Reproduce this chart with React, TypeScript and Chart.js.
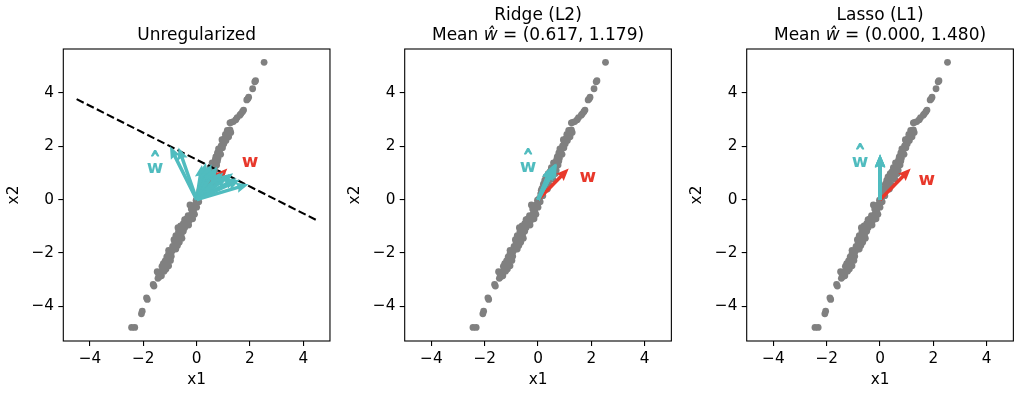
import React, { useEffect, useRef } from "react";
import { Chart, registerables } from "chart.js";
Chart.register(...registerables);

const FONT = '"DejaVu Sans", sans-serif';

// ---------- data ----------
const X_TICKS = [-4, -2, 0, 2, 4];
const Y_TICKS = [-4, -2, 0, 2, 4];
const X_LIMITS = [-5, 5];
const Y_LIMITS = [-5.3, 5.65];

const SCATTER_X1 = [
  2.53, 2.21, 2.18, 2.1, 1.95, 1.92, 1.88, 1.76, 1.72, 1.66, 1.62, 1.52, 1.47, 1.38, 1.3, 1.25,
  1.25, 1.2, 1.28, 1.12, 1.2, 1.05, 1.1, 0.98, 1.02, 0.92, 0.97, 0.88, 0.85, 0.78, 0.9,
  0.75, 0.8, 0.7, 0.68, 0.62, 0.75, 0.6, 0.55, 0.68, 0.45, 0.38, 0.55, 0.65, 0.3, 0.42, 0.55, 0.25,
  0.3, 0.2, 0.42, 0.15, 0.25, 0.35, 0.1, 0.18, 0.05, -0.02, 0.08, -0.05, 0.0, -0.1, -0.25,
  -0.12, -0.18, -0.08, -0.22, -0.15, -0.28, -0.45, -0.35, -0.42, -0.3, -0.45, -0.55, -0.62, -0.5, -0.7,
  -0.62, -0.58, -0.68, -0.7, -0.75, -0.65, -0.55, -0.85, -0.8, -0.85, -0.78, -1.05, -0.95, -1.05, -0.92,
  -1.0, -1.05, -0.98, -1.1, -1.15, -1.05, -1.2, -1.28, -1.22, -1.35, -1.42, -1.38, -1.48,
  -0.2, -0.32, -0.38, -0.5, -0.6, -0.68, -0.78, -0.82, -0.72, -0.9, -0.95, -1.12, -1.18, -1.25, -1.3, -1.45, -1.32, -1.15,
  0.12, 0.28, 0.35, 0.48, 0.5, 0.58, 0.72, 0.82, 0.95, 1.15, 1.08, 0.78,
  -1.63, -1.6, -1.88, -1.85, -2.04, -2.07, -2.44, -2.32,
];
const SCATTER_X2 = [
  5.15, 4.46, 4.42, 4.16, 3.84, 3.78, 3.74, 3.36, 3.3, 3.22, 3.17, 3.08, 3.0, 2.93, 2.9, 2.88,
  2.62, 2.58, 2.52, 2.42, 2.36, 2.3, 2.22, 2.18, 2.1, 2.02, 1.95, 1.9, 1.82, 1.75, 1.7,
  1.62, 1.55, 1.5, 1.42, 1.35, 1.3, 1.22, 1.15, 1.1, 1.05, 0.98, 0.95, 0.98, 0.85, 0.8, 0.78, 0.72,
  0.6, 0.58, 0.55, 0.42, 0.38, 0.4, 0.22, 0.15, 0.05, -0.02, -0.08, -0.18, -0.28, -0.32, -0.2,
  -0.45, -0.52, -0.55, -0.68, -0.72, -0.78, -0.75, -0.88, -0.85, -0.95, -1.05, -1.08, -1.12, -1.18, -1.05,
  -1.25, -1.32, -1.38, -1.48, -1.55, -1.6, -1.45, -1.5, -1.7, -1.8, -1.85, -1.9, -1.95, -2.02, -1.92,
  -2.12, -2.22, -2.28, -2.38, -2.45, -2.48, -2.55, -2.62, -2.68, -2.75, -2.82, -2.88, -2.7,
  -0.35, -0.6, -0.72, -0.9, -0.98, -1.2, -1.35, -1.6, -1.72, -1.75, -2.12, -2.15, -2.3, -2.4, -2.5, -2.95, -2.85, -2.6,
  0.35, 0.5, 0.7, 0.9, 1.2, 1.38, 1.6, 1.9, 2.25, 2.6, 2.45, 1.45,
  -3.18, -3.24, -3.68, -3.74, -4.18, -4.28, -4.79, -4.79,
];

const TRUE_W = [1.15, 1.17];

const UNREG_W1 = [-1.0, -0.68, 0.2, 0.35, 0.45, 0.56, 0.65, 0.77, 0.88, 1.0, 1.15, 1.37, 1.5, 1.62, 1.95];
const UNREG_W2 = [2.0, 1.96, 1.3, 1.38, 1.25, 1.33, 1.15, 1.24, 1.0, 1.02, 0.9, 0.99, 0.8, 0.75, 0.58];

const RIDGE_W1 = [0.5, 0.55, 0.6, 0.63, 0.66, 0.69, 0.71, 0.64, 0.58, 0.68];
const RIDGE_W2 = [1.22, 1.28, 1.3, 1.34, 1.36, 1.36, 1.33, 1.26, 1.2, 1.3];

const LASSO_W1 = [0.0, 0.0, 0.0, 0.0, 0.0];
const LASSO_W2 = [1.7, 1.68, 1.66, 1.7, 1.69];

const BOUNDARY_X1 = [-4.5, 4.5];
const BOUNDARY_X2 = [3.77, -0.77];

const TITLES = ["Unregularized", "Ridge (L2)", "Lasso (L1)"];
const MEAN_TEXT = [null, " = (0.617, 1.179)", " = (0.000, 1.480)"];

// ---------- layout / style ----------
const CYAN = "#50bcbf";
const RED = "#e8382b";
const GRAY = "#808080";
const AREA_LEFT = [63.3, 404.7, 746.7];
const CANVAS_LEFT = [0, 341, 683];
const CANVAS_W = [341, 342, 341];
const AREA_W = 266.67;
const AREA_TOP = 49;
const H = 393;
const X_AXIS_H = 52;
const TICK_SIZE = 15.3;

const PANELS = [
  { w1: UNREG_W1, w2: UNREG_W2, boundary: true, hatLabel: [-1.56, 0.99], wLabel: [2.0, 1.24] },
  { w1: RIDGE_W1, w2: RIDGE_W2, boundary: false, hatLabel: [-0.37, 1.05], wLabel: [1.87, 0.675] },
  { w1: LASSO_W1, w2: LASSO_W2, boundary: false, hatLabel: [-0.75, 1.24], wLabel: [1.75, 0.55] },
];

const fmt = (v: number) => (v < 0 ? "\u2212" + Math.abs(v) : String(v));

function drawArrow(ctx: CanvasRenderingContext2D, x0: number, y0: number, x1: number, y1: number, color: string) {
  const shaftW = 3.5, headW = 10.5, headL = 12.5, headAxis = 11.2;
  const dx = x1 - x0, dy = y1 - y0;
  const len = Math.hypot(dx, dy);
  if (len < 1e-6) return;
  const ux = dx / len, uy = dy / len;
  const px = -uy, py = ux;
  const hl = Math.min(headL, len), ha = Math.min(headAxis, len);
  const sw = shaftW / 2, hw = headW / 2;
  const pts = [
    [x0 + px * sw, y0 + py * sw],
    [x0 + ux * (len - ha) + px * sw, y0 + uy * (len - ha) + py * sw],
    [x0 + ux * (len - hl) + px * hw, y0 + uy * (len - hl) + py * hw],
    [x1, y1],
    [x0 + ux * (len - hl) - px * hw, y0 + uy * (len - hl) - py * hw],
    [x0 + ux * (len - ha) - px * sw, y0 + uy * (len - ha) - py * sw],
    [x0 - px * sw, y0 - py * sw],
  ];
  ctx.beginPath();
  ctx.moveTo(pts[0][0], pts[0][1]);
  for (let i = 1; i < pts.length; i++) ctx.lineTo(pts[i][0], pts[i][1]);
  ctx.closePath();
  ctx.fillStyle = color;
  ctx.fill();
}

// bold "w" with a hat glyph fitted into a box above it
function drawHatW(ctx: CanvasRenderingContext2D, cx: number, baseline: number, color: string) {
  ctx.save();
  ctx.fillStyle = color;
  ctx.strokeStyle = color;
  ctx.font = `bold 18px ${FONT}`;
  ctx.textAlign = "center";
  ctx.textBaseline = "alphabetic";
  ctx.fillText("w", cx, baseline);
  ctx.textAlign = "left";
  const hat = "^";
  const m = ctx.measureText(hat);
  const inkL = m.actualBoundingBoxLeft, inkR = m.actualBoundingBoxRight;
  const asc = m.actualBoundingBoxAscent, desc = m.actualBoundingBoxDescent;
  const inkW = inkL + inkR, inkH = asc + desc;
  const targetW = 8.4, top = baseline - 22.8, bottom = baseline - 17.2;
  const sx = inkW > 0 ? targetW / inkW : 1;
  const sy = inkH > 0 ? (bottom - top) / inkH : 1;
  ctx.translate(cx - targetW / 2 + inkL * sx, top + asc * sy);
  ctx.scale(sx, sy);
  ctx.lineWidth = 1.1;
  ctx.lineJoin = "round";
  ctx.fillText(hat, 0, 0);
  ctx.strokeText(hat, 0, 0);
  ctx.restore();
}

function Panel({ idx }: { idx: number }) {
  const ref = useRef<HTMLCanvasElement | null>(null);
  useEffect(() => {
    const canvas = ref.current;
    if (!canvas) return;
    const panel = PANELS[idx];
    const yAxisW = AREA_LEFT[idx] - CANVAS_LEFT[idx];
    const rightPad = CANVAS_W[idx] - yAxisW - AREA_W;
    const lineH = TICK_SIZE * 1.2;
    const yTitlePad = yAxisW - 49.7 - lineH / 2;

    const overlay = {
      id: "overlay" + idx,
      afterDatasetsDraw(chart: any) {
        const { ctx, chartArea } = chart;
        const sx = chart.scales.x, sy = chart.scales.y;
        const ox = sx.getPixelForValue(0), oy = sy.getPixelForValue(0);
        ctx.save();
        drawArrow(ctx, ox, oy, sx.getPixelForValue(TRUE_W[0]), sy.getPixelForValue(TRUE_W[1]), RED);
        for (let i = 0; i < panel.w1.length; i++) {
          drawArrow(ctx, ox, oy, sx.getPixelForValue(panel.w1[i]), sy.getPixelForValue(panel.w2[i]), CYAN);
        }
        drawHatW(ctx, sx.getPixelForValue(panel.hatLabel[0]), sy.getPixelForValue(panel.hatLabel[1]), CYAN);
        ctx.textAlign = "center";
        ctx.textBaseline = "alphabetic";
        ctx.font = `bold 18px ${FONT}`;
        ctx.fillStyle = RED;
        ctx.fillText("w", sx.getPixelForValue(panel.wLabel[0]), sy.getPixelForValue(panel.wLabel[1]));
        // spines
        ctx.strokeStyle = "#000";
        ctx.lineWidth = 1.1;
        ctx.strokeRect(chartArea.left, chartArea.top, chartArea.right - chartArea.left, chartArea.bottom - chartArea.top);
        // titles
        const cx = (chartArea.left + chartArea.right) / 2;
        ctx.fillStyle = "#000";
        const normal = `17px ${FONT}`;
        const italic = `italic 17px ${FONT}`;
        if (MEAN_TEXT[idx] === null) {
          ctx.font = normal;
          ctx.textAlign = "center";
          ctx.fillText(TITLES[idx], cx, 40.3);
        } else {
          ctx.font = normal;
          ctx.textAlign = "center";
          ctx.fillText(TITLES[idx], cx, 19.8);
          const segs: [string, string][] = [["Mean ", normal], ["\u0175", italic], [MEAN_TEXT[idx] as string, normal]];
          let total = 0;
          for (const [t, f] of segs) { ctx.font = f; total += ctx.measureText(t).width; }
          let x = cx - total / 2;
          ctx.textAlign = "left";
          for (const [t, f] of segs) { ctx.font = f; ctx.fillText(t, x, 40.3); x += ctx.measureText(t).width; }
        }
        ctx.restore();
      },
    };

    const datasets: any[] = [];
    if (panel.boundary) {
      datasets.push({
        type: "line",
        data: BOUNDARY_X1.map((x, i) => ({ x, y: BOUNDARY_X2[i] })),
        borderColor: "#000",
        borderWidth: 2.1,
        borderDash: [7.9, 3.4],
        pointRadius: 0,
        fill: false,
        tension: 0,
      });
    }
    datasets.push({
      type: "scatter",
      data: SCATTER_X1.map((x, i) => ({ x, y: SCATTER_X2[i] })),
      pointRadius: 3.4,
      pointBackgroundColor: GRAY,
      pointBorderWidth: 0,
      showLine: false,
    });

    const tickFont = { family: FONT, size: TICK_SIZE };
    const grid = { display: true, drawOnChartArea: false, drawTicks: true, tickLength: 5, lineWidth: 1.1, tickWidth: 1.1, tickColor: "#000", color: "#000" };
    const chart = new Chart(canvas, {
      type: "scatter",
      data: { datasets },
      plugins: [overlay],
      options: {
        responsive: false,
        animation: false,
        devicePixelRatio: 1,
        events: [],
        layout: { padding: { top: AREA_TOP, right: rightPad, bottom: 0, left: 0 } },
        plugins: { legend: { display: false }, tooltip: { enabled: false }, title: { display: false } },
        scales: {
          x: {
            type: "linear",
            position: "bottom",
            min: X_LIMITS[0],
            max: X_LIMITS[1],
            afterBuildTicks: (s: any) => { s.ticks = X_TICKS.map((v) => ({ value: v })); },
            afterFit: (s: any) => { s.height = X_AXIS_H; },
            grid,
            border: { display: false },
            ticks: { color: "#000", font: tickFont, padding: 3.5, maxRotation: 0, autoSkip: false, callback: (v: any) => fmt(Number(v)) },
            title: { display: true, text: "x1", color: "#000", font: tickFont, padding: { top: 0, bottom: 4 } },
          },
          y: {
            type: "linear",
            position: "left",
            min: Y_LIMITS[0],
            max: Y_LIMITS[1],
            afterBuildTicks: (s: any) => { s.ticks = Y_TICKS.map((v) => ({ value: v })); },
            afterFit: (s: any) => { s.width = yAxisW; },
            grid,
            border: { display: false },
            ticks: { color: "#000", font: tickFont, padding: 4.3, autoSkip: false, callback: (v: any) => fmt(Number(v)) },
            title: { display: true, text: "x2", color: "#000", font: tickFont, padding: { top: yTitlePad, bottom: 0 } },
          },
        },
      } as any,
    });
    return () => chart.destroy();
  }, [idx]);

  return (
    <canvas
      ref={ref}
      width={CANVAS_W[idx]}
      height={H}
      style={{ position: "absolute", left: CANVAS_LEFT[idx], top: 0, width: CANVAS_W[idx], height: H }}
    />
  );
}

export default function App() {
  return (
    <div style={{ position: "absolute", left: 0, top: 0, width: 1024, height: H, background: "#fff" }}>
      {[0, 1, 2].map((i) => (
        <Panel key={i} idx={i} />
      ))}
    </div>
  );
}
